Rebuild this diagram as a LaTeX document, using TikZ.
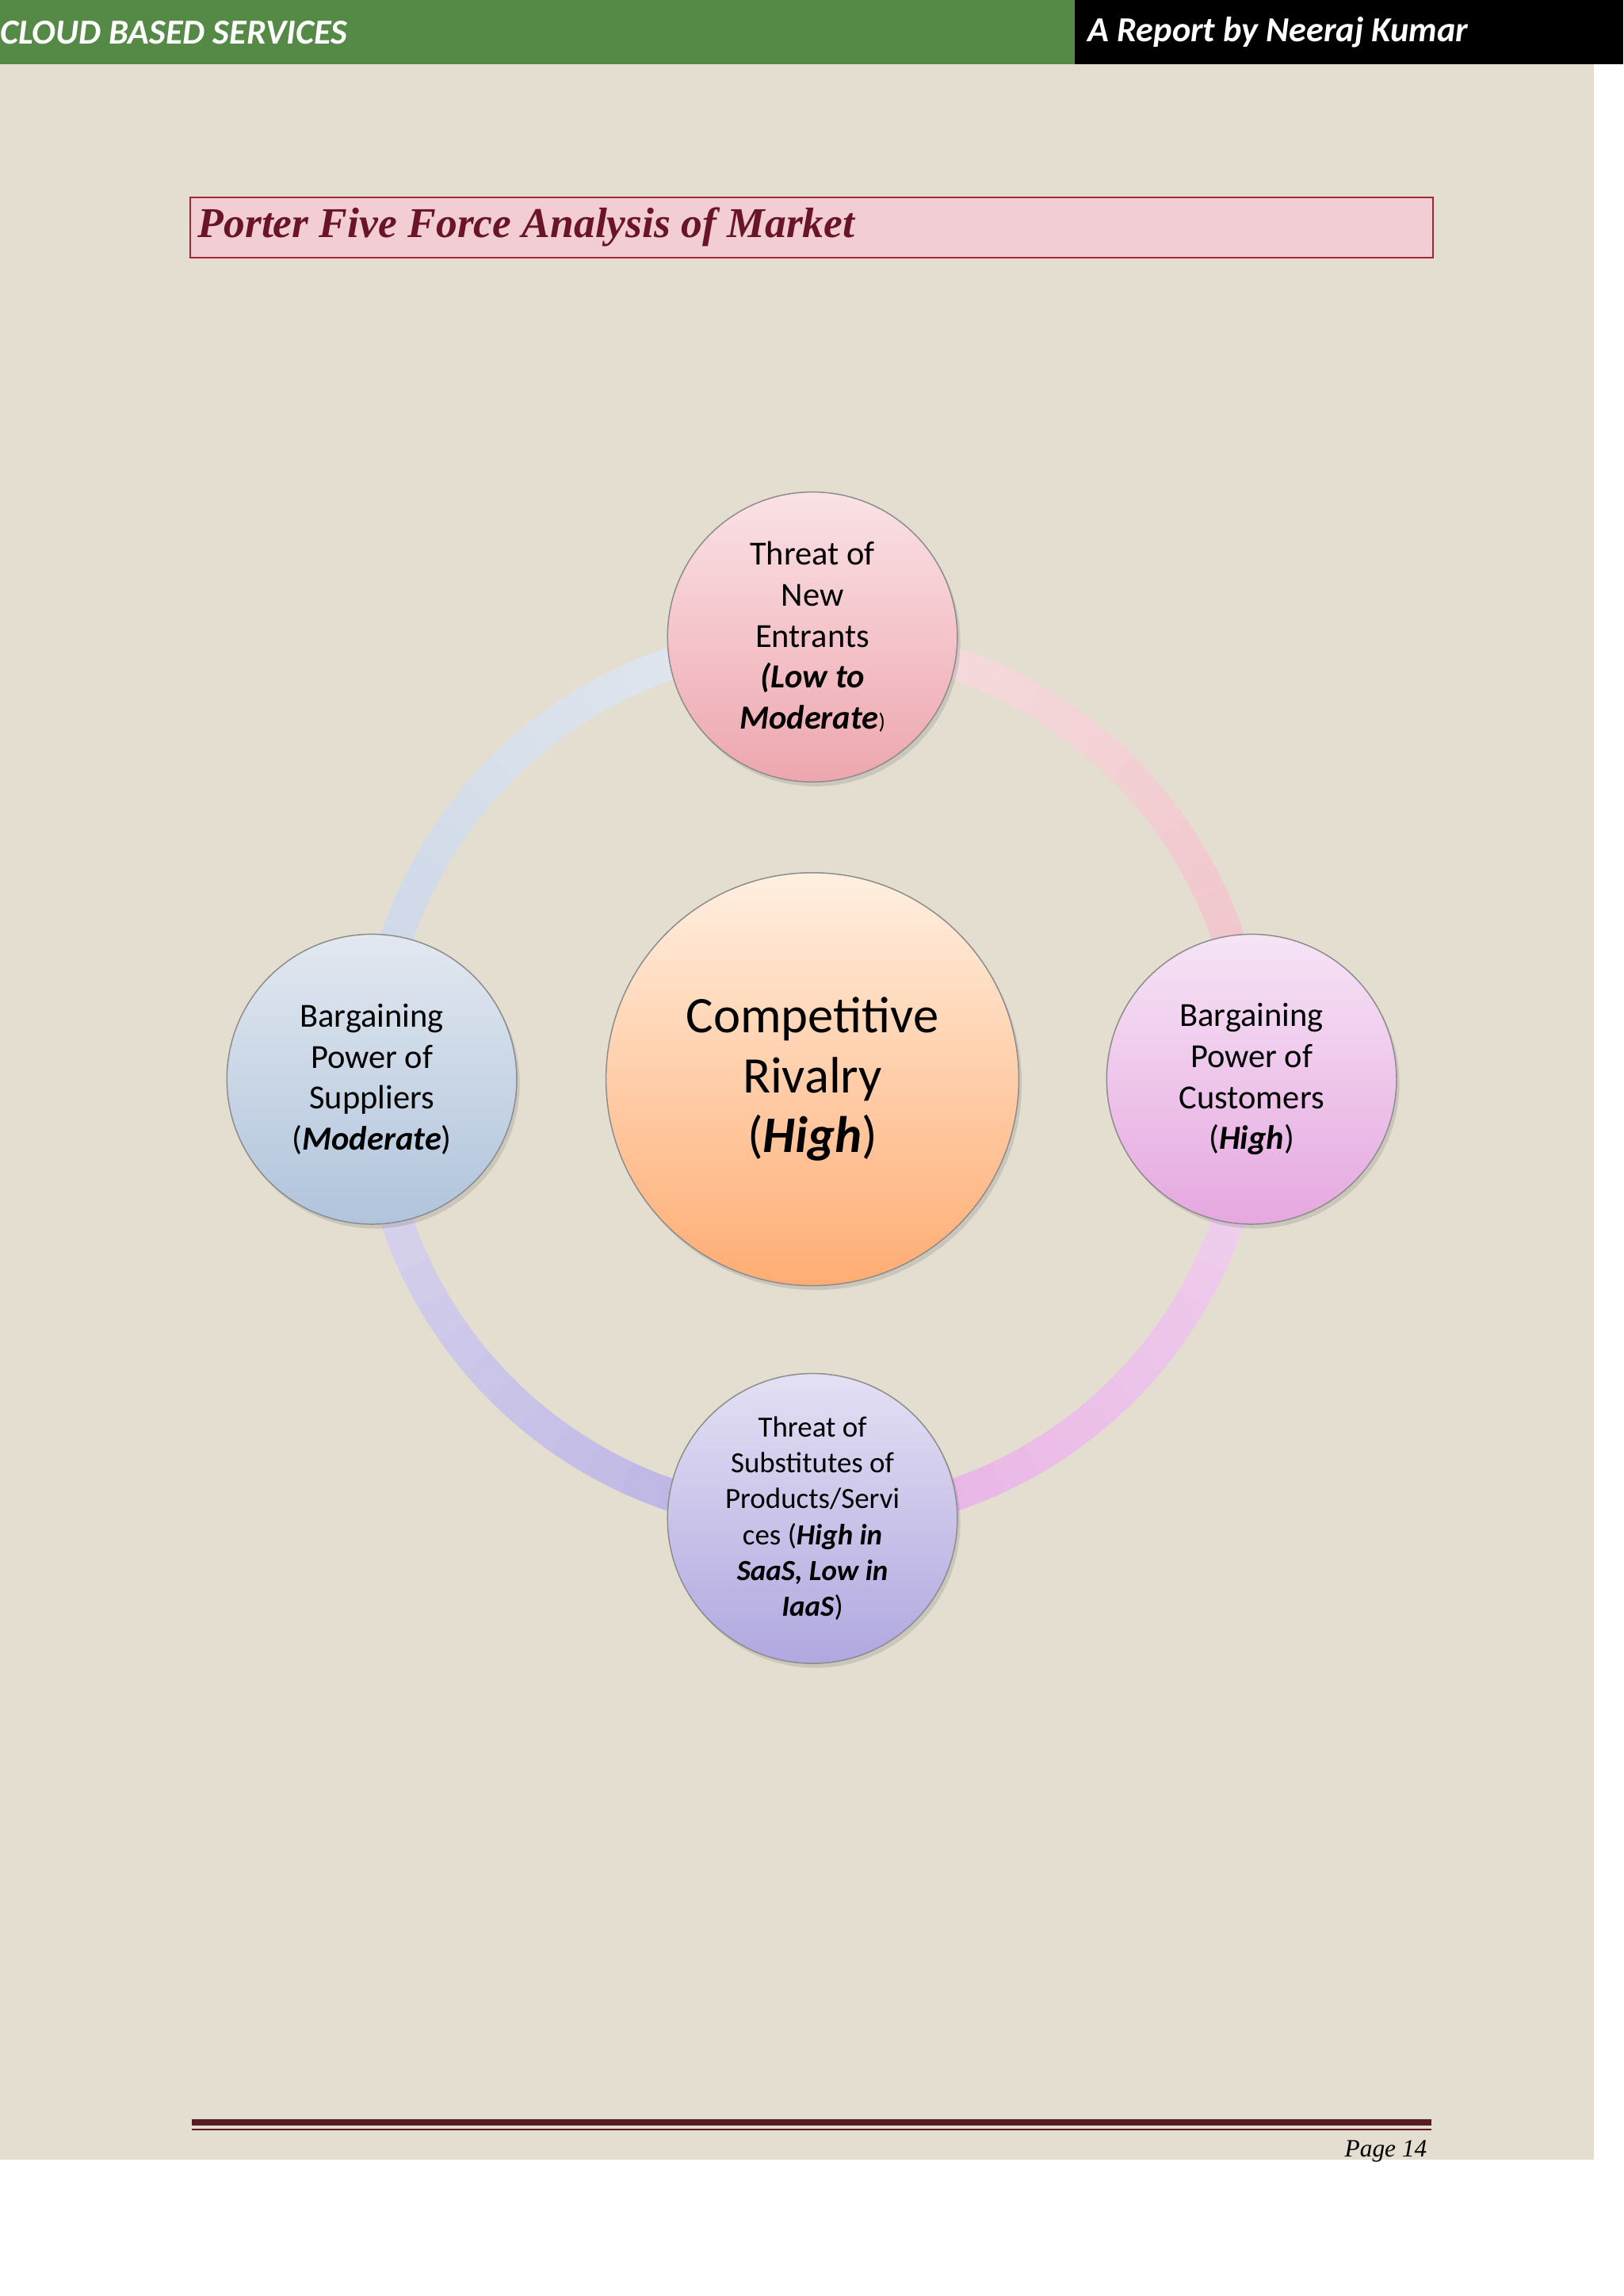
\documentclass[tikz,border=0pt]{standalone}
\usepackage{fontspec}
\setmainfont{Carlito}
\newfontfamily\ttlfont{Liberation Serif}
\usetikzlibrary{shadows}
\definecolor{hdrgreen}{HTML}{548A45}
\definecolor{bg}{HTML}{E4DED0}
\definecolor{ttlfill}{HTML}{F2CDD3}
\definecolor{ttldraw}{HTML}{A0283A}
\definecolor{ttltext}{HTML}{6A1428}
\definecolor{footc}{HTML}{5A1C24}
\definecolor{rA1}{HTML}{F5E0E0}\definecolor{rA2}{HTML}{F0C0C8}
\definecolor{rB1}{HTML}{F0D4EE}\definecolor{rB2}{HTML}{E8B0E4}
\definecolor{rC1}{HTML}{B8B0E2}\definecolor{rC2}{HTML}{DCD8EE}
\definecolor{rD1}{HTML}{CAD6E6}\definecolor{rD2}{HTML}{E4E8EF}
\tikzset{
  circ/.style={circle,draw=black!45,line width=0.8pt,align=center,inner sep=0pt,
    drop shadow={shadow xshift=2pt,shadow yshift=-3pt,opacity=0.25}},
  small/.style={circ,minimum size=198pt,font=\fontsize{23}{28}\selectfont},
}
\begin{document}
\begin{tikzpicture}[x=1pt,y=-1pt]
\useasboundingbox (0,0) rectangle (1109,1568);
\fill[white] (0,0) rectangle (1109,1568);
\fill[bg] (0,44) rectangle (1089,1475);
\fill[hdrgreen] (0,0) rectangle (734,44);
\fill[black] (734,0) rectangle (1109,44);
\node[anchor=west,text=white,font=\fontsize{24}{28}\selectfont\bfseries\itshape,inner sep=0pt] (h1) at (0,22) {CLOUD BASED SERVICES};
\node[anchor=west,text=white,font=\fontsize{24}{28}\selectfont\bfseries\itshape,inner sep=0pt] (h2) at (743,22) {A Report by Neeraj Kumar};
\node[draw=ttldraw,fill=ttlfill,line width=1.2pt,minimum width=849pt,minimum height=41pt,inner sep=0pt] (tb) at (554.5,155.5) {};
\node[anchor=west,text=ttltext,font=\ttlfont\fontsize{29}{32}\selectfont\bfseries\itshape,inner sep=0pt] (tt) at (135,155) {Porter Five Force Analysis of Market};
\coordinate (c) at (555,737);
\foreach \s/\ca/\cb in {270/rA1/rA2,0/rB1/rB2,90/rC1/rC2,180/rD1/rD2}{
  \foreach \k in {0,...,17}{
    \pgfmathsetmacro\p{100-\k*100/17}
    \pgfmathsetmacro\a{\s+\k*5}
    \draw[line width=22pt,draw=\ca!\p!\cb] ([shift={(\a:300)}]c) arc (\a:\a+5.3:300);
  }}
\node[circ,minimum size=282pt,top color=orange!12!white,bottom color=orange!50!white!90!red,
  font=\fontsize{35}{41}\selectfont] (ctr) at (555,737) {Competitive\\Rivalry\\(\textbf{\textit{High}})};
\node[small,top color={rgb,255:red,250;green,226;blue,230},bottom color={rgb,255:red,238;green,166;blue,174}] (top) at (555,435)
  {Threat of\\New\\Entrants\\\textbf{\textit{(Low to}}\\\textbf{\textit{Moderate}}{\fontsize{15}{18}\selectfont)}};
\node[small,top color={rgb,255:red,246;green,228;blue,246},bottom color={rgb,255:red,230;green,168;blue,224}] (rt) at (855,737)
  {Bargaining\\Power of\\Customers\\(\textbf{\textit{High}})};
\node[small,top color={rgb,255:red,226;green,232;blue,240},bottom color={rgb,255:red,176;green,196;blue,220}] (lt) at (254,737)
  {Bargaining\\Power of\\Suppliers\\(\textbf{\textit{Moderate}})};
\node[small,font=\fontsize{20}{24.5}\selectfont,top color={rgb,255:red,228;green,224;blue,244},bottom color={rgb,255:red,176;green,168;blue,224}] (bt) at (555,1037)
  {Threat of\\Substitutes of\\Products/Servi\\ces (\textbf{\textit{High in}}\\\textbf{\textit{SaaS, Low in}}\\\textbf{\textit{IaaS}})};
\fill[footc] (131,1447) rectangle (978,1451.5);
\draw[footc,line width=1pt] (131,1454.5) -- (978,1454.5);
\node[anchor=east,font=\ttlfont\fontsize{17}{20}\selectfont\itshape,inner sep=0pt] (pg) at (975,1469) {Page 14};
\end{tikzpicture}
\end{document}
